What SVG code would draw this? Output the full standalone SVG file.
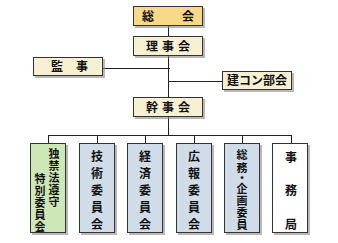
<svg xmlns="http://www.w3.org/2000/svg" width="338" height="243" viewBox="0 0 338 243">
<defs>
<style>
.b{stroke:#333;stroke-width:1}
.sh{fill:#888;opacity:0.6}
.t{font-family:"Noto Sans CJK JP","Noto Sans CJK SC",sans-serif;font-weight:bold;font-size:12px;fill:#111;text-anchor:middle}
.s{font-size:11px}
.c{stroke:#222;stroke-width:1;fill:none}
.gold{fill:#f8d98a}
.cream{fill:#f8f0d2}
.green{fill:#cde8b6}
.blue{fill:#d0dde9}
.white{fill:#fff}
</style>
</defs>
<rect width="338" height="243" fill="#fff"/>
<g id="connectors">
<path class="c" d="M168.5 26V97M103 68.5H170M168.5 81.5H222M168.5 117V135.5M48.5 135.5H291.5M48.5 135V143M97.5 135V143M145.5 135V143M194.5 135V143M242.5 135V143M291.5 135V143"/>
</g>
<g id="soukai">
<rect class="sh" x="135" y="8" width="70" height="20"/>
<rect class="b gold" x="133.5" y="6.5" width="69" height="19"/>
<text class="t" x="168" y="20.5"><tspan x="148">総</tspan><tspan x="188">会</tspan></text>
</g>
<g id="rijikai">
<rect class="sh" x="135" y="38" width="70" height="20"/>
<rect class="b cream" x="133.5" y="36.5" width="69" height="19"/>
<text class="t" x="170" y="50.5" letter-spacing="4">理事会</text>
</g>
<g id="kanji">
<rect class="sh" x="35" y="59" width="70" height="19"/>
<rect class="b cream" x="33.5" y="57.5" width="69" height="18"/>
<text class="t" x="68" y="71"><tspan x="57">監</tspan><tspan x="82">事</tspan></text>
</g>
<g id="kencon">
<rect class="sh" x="224" y="73" width="70" height="19"/>
<rect class="b cream" x="222.5" y="71.5" width="69" height="18"/>
<text class="t" x="257" y="85">建コン部会</text>
</g>
<g id="kanjikai">
<rect class="sh" x="135" y="99" width="70" height="20"/>
<rect class="b cream" x="133.5" y="97.5" width="69" height="19"/>
<text class="t" x="170" y="111.5" letter-spacing="4">幹事会</text>
</g>
<g id="dokkin">
<rect class="sh" x="32" y="145" width="36" height="90"/>
<rect class="b green" x="30.5" y="143.5" width="35" height="89"/>
<text class="t s"><tspan x="54" y="158">独</tspan><tspan x="54" y="170">禁</tspan><tspan x="54" y="182">法</tspan><tspan x="54" y="194">遵</tspan><tspan x="54" y="206">守</tspan></text>
<text class="t s"><tspan x="40" y="183">特</tspan><tspan x="40" y="195">別</tspan><tspan x="40" y="207">委</tspan><tspan x="40" y="219">員</tspan><tspan x="40" y="231">会</tspan></text>
</g>
<g id="gijutsu">
<rect class="sh" x="81" y="145" width="36" height="90"/>
<rect class="b blue" x="79.5" y="143.5" width="35" height="89"/>
<text class="t"><tspan x="97" y="161">技</tspan><tspan x="97" y="178">術</tspan><tspan x="97" y="195">委</tspan><tspan x="97" y="212">員</tspan><tspan x="97" y="229">会</tspan></text>
</g>
<g id="keizai">
<rect class="sh" x="129" y="145" width="36" height="90"/>
<rect class="b blue" x="127.5" y="143.5" width="35" height="89"/>
<text class="t"><tspan x="145" y="161">経</tspan><tspan x="145" y="178">済</tspan><tspan x="145" y="195">委</tspan><tspan x="145" y="212">員</tspan><tspan x="145" y="229">会</tspan></text>
</g>
<g id="kouhou">
<rect class="sh" x="178" y="145" width="36" height="90"/>
<rect class="b blue" x="176.5" y="143.5" width="35" height="89"/>
<text class="t"><tspan x="194" y="161">広</tspan><tspan x="194" y="178">報</tspan><tspan x="194" y="195">委</tspan><tspan x="194" y="212">員</tspan><tspan x="194" y="229">会</tspan></text>
</g>
<g id="soumu">
<rect class="sh" x="226" y="145" width="36" height="90"/>
<rect class="b blue" x="224.5" y="143.5" width="35" height="89"/>
<text class="t s"><tspan x="242" y="159">総</tspan><tspan x="242" y="172">務</tspan><tspan x="242" y="182">・</tspan><tspan x="242" y="193">企</tspan><tspan x="242" y="205">画</tspan><tspan x="242" y="217">委</tspan><tspan x="242" y="229">員</tspan></text>
</g>
<g id="jimukyoku">
<rect class="sh" x="274" y="145" width="36" height="90"/>
<rect class="b white" x="272.5" y="143.5" width="35" height="89"/>
<text class="t"><tspan x="291" y="162">事</tspan><tspan x="291" y="195">務</tspan><tspan x="291" y="229">局</tspan></text>
</g>
</svg>
